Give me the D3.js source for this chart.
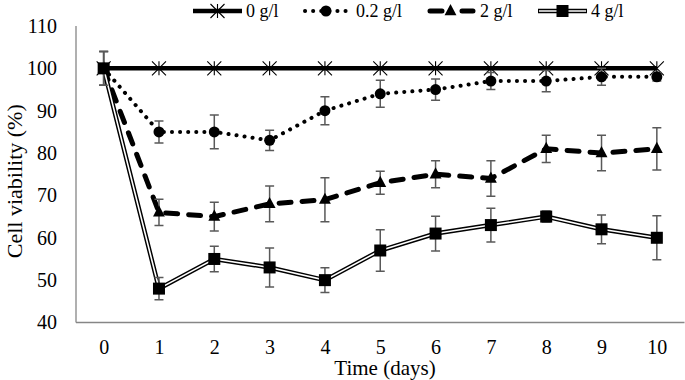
<!DOCTYPE html>
<html>
<head>
<meta charset="utf-8">
<script src="https://cdn.jsdelivr.net/npm/d3@7"></script>
<style>
  html, body { margin: 0; padding: 0; background: #fff; }
  svg { display: block; font-family: "Liberation Serif", "Times New Roman", serif; }
</style>
</head>
<body>
<svg id="chart" width="685" height="380"></svg>
<script>
const days = [0, 1, 2, 3, 4, 5, 6, 7, 8, 9, 10];
const seriesNames = ["0 g/l", "0.2 g/l", "2 g/l", "4 g/l"];
const values0 = [100, 100, 100, 100, 100, 100, 100, 100, 100, 100, 100];
const errors0 = [0, 0, 0, 0, 0, 0, 0, 0, 0, 0, 0];
const values02 = [100, 85, 85, 83, 90, 94, 95, 97, 97, 98, 98];
const errors02 = [4, 2.6, 4, 2.4, 3.3, 3.2, 2.5, 2, 2.5, 2, 1];
const values2 = [100, 66, 65, 68, 69, 73, 75, 74, 81, 80, 81];
const errors2 = [4, 3.1, 3.4, 4.2, 5.2, 2.7, 3.2, 4.2, 3.2, 4.2, 5];
const values4 = [100, 48, 55, 53, 50, 57, 61, 63, 65, 62, 60];
const errors4 = [4, 2.6, 3, 4.6, 2.9, 4.9, 4.1, 4, 1.3, 3.4, 5.2];
const yTicks = [40, 50, 60, 70, 80, 90, 100, 110];

const series = [
  { name: seriesNames[0], values: values0, errors: errors0, type: "star" },
  { name: seriesNames[1], values: values02, errors: errors02, type: "circle" },
  { name: seriesNames[2], values: values2, errors: errors2, type: "triangle" },
  { name: seriesNames[3], values: values4, errors: errors4, type: "square" }
];

const svg = d3.select("#chart");
const x = d3.scaleLinear().domain([-0.5, 10.5]).range([76, 684.5]);
const y = d3.scaleLinear().domain([40, 110]).range([322.5, 26]);

// axes
const axisColor = "#868686";
svg.append("line").attr("x1", x(-0.5)).attr("x2", x(-0.5)).attr("y1", y(110)).attr("y2", y(40))
  .attr("stroke", axisColor).attr("stroke-width", 1.3);
svg.append("line").attr("x1", x(-0.5)).attr("x2", x(10.5)).attr("y1", y(40)).attr("y2", y(40))
  .attr("stroke", axisColor).attr("stroke-width", 1.3);

const yAxis = d3.axisLeft(y).tickValues(yTicks).tickSize(0).tickPadding(19);
const gy = svg.append("g").attr("transform", `translate(${x(-0.5)},0)`).call(yAxis);
gy.select(".domain").remove();
gy.selectAll("text").attr("font-size", 20).attr("font-family", "Liberation Serif").attr("fill", "#000");

const xAxis = d3.axisBottom(x).tickValues(days).tickSize(0).tickPadding(17);
const gx = svg.append("g").attr("transform", `translate(0,${y(40)})`).call(xAxis);
gx.select(".domain").remove();
gx.selectAll("text").attr("font-size", 20).attr("font-family", "Liberation Serif").attr("fill", "#000");

svg.append("text").attr("x", 385).attr("y", 375).attr("text-anchor", "middle")
  .attr("font-size", 21).text("Time (days)");
svg.append("text").attr("transform", `translate(22,${(y(110) + y(40)) / 2 + 7}) rotate(-90)`)
  .attr("text-anchor", "middle").attr("font-size", 22).text("Cell viability (%)");

// marker drawing
function drawMarker(g, type, cx, cy) {
  if (type === "star") {
    const s = 7;
    g.append("path").attr("d",
      `M${cx - s},${cy - s}L${cx + s},${cy + s}M${cx - s},${cy + s}L${cx + s},${cy - s}M${cx},${cy - s}L${cx},${cy + s}`)
      .attr("stroke", "#000").attr("stroke-width", 1.1).attr("fill", "none");
  } else if (type === "circle") {
    g.append("circle").attr("cx", cx).attr("cy", cy).attr("r", 5.5).attr("fill", "#000");
  } else if (type === "triangle") {
    const s = 7;
    g.append("path").attr("d", `M${cx},${cy - s}L${cx + s * 0.85},${cy + s * 0.6}L${cx - s * 0.85},${cy + s * 0.6}Z`)
      .attr("fill", "#000");
  } else if (type === "square") {
    g.append("rect").attr("x", cx - 6).attr("y", cy - 6).attr("width", 12).attr("height", 12).attr("fill", "#000");
  }
}

function styleLine(sel, type) {
  if (type === "star") {
    sel.attr("stroke", "#000").attr("stroke-width", 4.5);
  } else if (type === "circle") {
    sel.attr("stroke", "#000").attr("stroke-width", 4).attr("stroke-linecap", "round").attr("stroke-dasharray", "0.1 8");
  } else if (type === "triangle") {
    sel.attr("stroke", "#000").attr("stroke-width", 5).attr("stroke-linecap", "round").attr("stroke-dasharray", "12 11");
  }
}

const line = d3.line().x((d, i) => x(days[i])).y(d => y(d));

series.forEach(s => {
  const g = svg.append("g");
  if (s.type === "square") {
    g.append("path").attr("d", line(s.values)).attr("fill", "none").attr("stroke", "#000").attr("stroke-width", 4.5);
    g.append("path").attr("d", line(s.values)).attr("fill", "none").attr("stroke", "#fff").attr("stroke-width", 1.6);
  } else {
    const p = g.append("path").attr("d", line(s.values)).attr("fill", "none");
    styleLine(p, s.type);
  }
  // error bars
  s.values.forEach((v, i) => {
    const e = s.errors[i];
    if (!e) return;
    const cx = x(days[i]);
    g.append("path")
      .attr("d", `M${cx},${y(v + e)}L${cx},${y(v - e)}M${cx - 4.5},${y(v + e)}L${cx + 4.5},${y(v + e)}M${cx - 4.5},${y(v - e)}L${cx + 4.5},${y(v - e)}`)
      .attr("stroke", "#595959").attr("stroke-width", 1.5).attr("fill", "none");
  });
  s.values.forEach((v, i) => drawMarker(g, s.type, x(days[i]), y(v)));
});

// legend
const legendItems = [
  { x1: 193, x2: 242, tx: 246 },
  { x1: 303, x2: 349, tx: 356 },
  { x1: 428, x2: 473, tx: 480 },
  { x1: 538, x2: 587, tx: 591 }
];
const ly = 11;
series.forEach((s, i) => {
  const li = legendItems[i];
  const g = svg.append("g");
  if (s.type === "square") {
    g.append("line").attr("x1", li.x1).attr("x2", li.x2).attr("y1", ly).attr("y2", ly).attr("stroke", "#000").attr("stroke-width", 4.5);
    g.append("line").attr("x1", li.x1 + 1).attr("x2", li.x2 - 1).attr("y1", ly).attr("y2", ly).attr("stroke", "#fff").attr("stroke-width", 1.6);
  } else if (s.type === "circle") {
    const l = g.append("line").attr("x1", li.x1 + 2).attr("x2", li.x2).attr("y1", ly).attr("y2", ly);
    styleLine(l, s.type);
  } else {
    const l = g.append("line").attr("x1", li.x1).attr("x2", li.x2).attr("y1", ly).attr("y2", ly);
    styleLine(l, s.type);
    if (s.type === "triangle") l.attr("stroke-dasharray", "12 20").attr("stroke-linecap", "round").attr("stroke-dashoffset", -2);
  }
  drawMarker(g, s.type, (li.x1 + li.x2) / 2, ly);
  g.append("text").attr("x", li.tx).attr("y", ly + 6).attr("font-size", 18).text(s.name);
});
</script>
</body>
</html>
